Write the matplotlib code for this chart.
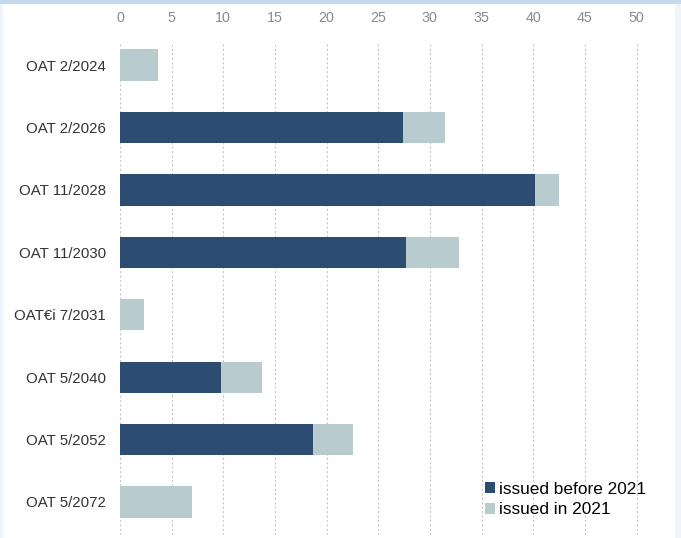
import matplotlib
matplotlib.use("Agg")
import matplotlib.pyplot as plt
from matplotlib.patches import Rectangle

plt.rcParams['font.family'] = ['Liberation Sans', 'DejaVu Sans']

# Bond lines and amounts (EUR bn)
bonds = ["OAT 2/2024", "OAT 2/2026", "OAT 11/2028", "OAT 11/2030",
         "OAT€i 7/2031", "OAT 5/2040", "OAT 5/2052", "OAT 5/2072"]
issued_before_2021 = [0.0, 27.4, 40.2, 27.7, 0.0, 9.8, 18.7, 0.0]
issued_in_2021 = [3.7, 4.1, 2.3, 5.1, 2.3, 3.9, 3.9, 7.0]
x_ticks = [0, 5, 10, 15, 20, 25, 30, 35, 40, 45, 50]

dark = "#2c4d71"
light = "#b8cbcf"

W, H = 681, 538
fig = plt.figure(figsize=(W / 100, H / 100), dpi=100)
fig.patch.set_facecolor("#f0f5fc")

# white panel with a light blue band along the top
fig.add_artist(Rectangle((3 / W, 0), (675 - 3) / W, 1, transform=fig.transFigure,
                         facecolor="white", edgecolor="none", zorder=0))
fig.add_artist(Rectangle((0, 1 - 4 / H), 1, 4 / H, transform=fig.transFigure,
                         facecolor="#c5d9ed", edgecolor="none", zorder=0))

ax = fig.add_axes([120 / W, 3 / H, (652 - 120) / W, (535 - 42) / H])
ax.set_facecolor("none")

y = list(range(len(bonds)))
ax.barh(y, issued_before_2021, height=0.5, color=dark, label="issued before 2021", zorder=3)
ax.barh(y, issued_in_2021, left=issued_before_2021, height=0.5, color=light,
        label="issued in 2021", zorder=3)

ax.set_xlim(0, 51.5)
ax.set_ylim(7.53, -0.37)

ax.set_xticks(x_ticks)
ax.set_yticks(y)
ax.set_yticklabels(bonds)
ax.xaxis.tick_top()
ax.tick_params(axis="x", length=0, pad=12, labelsize=10.3, labelcolor="#8a8a8a")
ax.tick_params(axis="y", length=0, pad=10, labelsize=10.8, labelcolor="#333333")
ax.grid(axis="x", linestyle=(0, (2, 2)), color="#c8c8c8", linewidth=0.8, zorder=0)
ax.grid(axis="y", visible=False)
for s in ax.spines.values():
    s.set_visible(False)

ax.legend(loc="upper left", bbox_to_anchor=(485 / W, 1 - 482 / H),
          bbox_transform=fig.transFigure, frameon=False, fontsize=12.4,
          handlelength=0.6, handleheight=0.6, handletextpad=0.2,
          labelspacing=0.3, borderpad=0, borderaxespad=0)

fig.savefig("out.png", dpi=100)
